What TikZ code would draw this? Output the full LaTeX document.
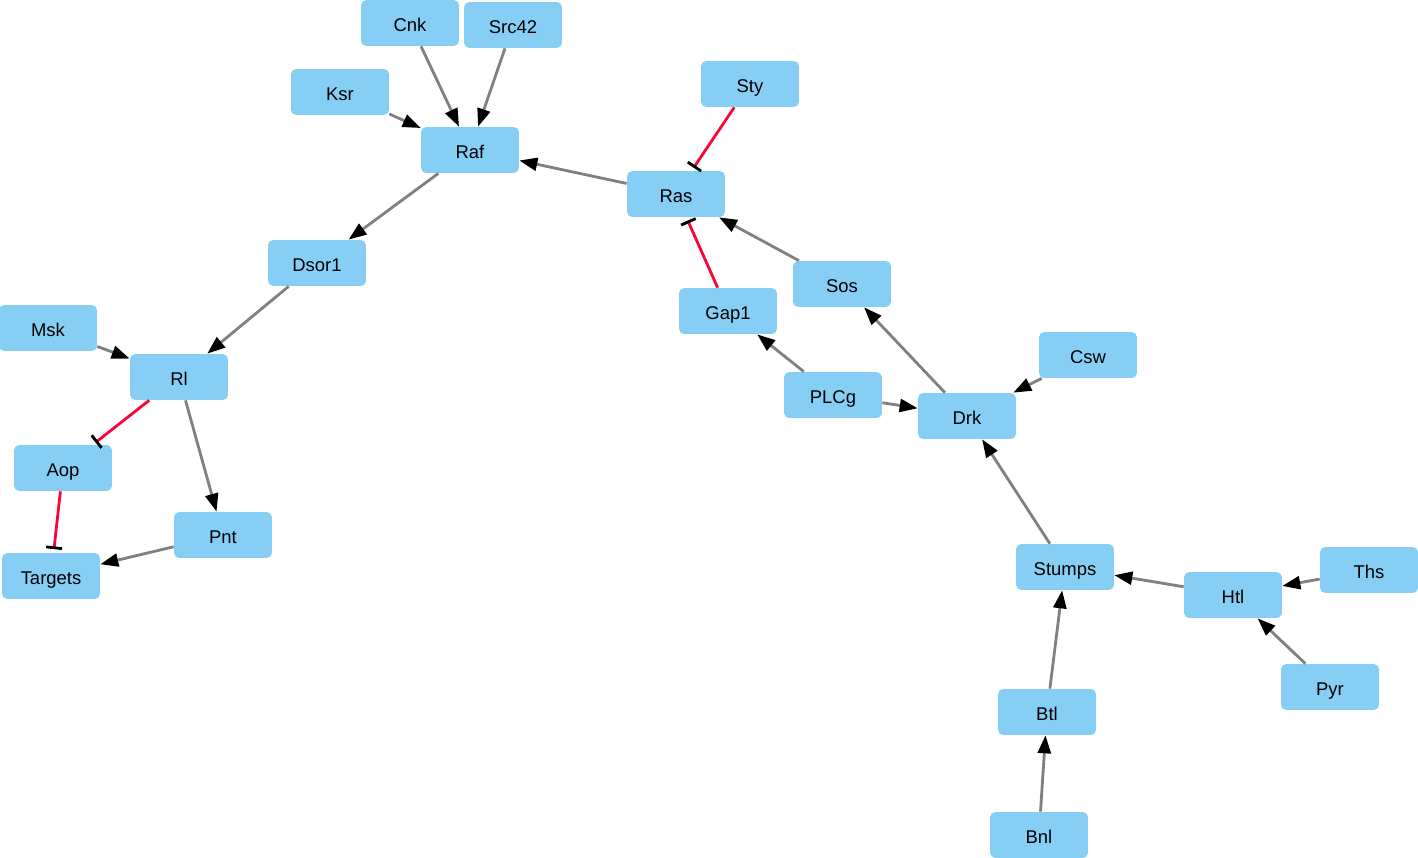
\documentclass[tikz,border=0pt]{standalone}
\usepackage{fontspec}
\setmainfont{Liberation Sans}
\usepackage{tikz}
\usetikzlibrary{arrows.meta}
\definecolor{genebox}{RGB}{135,206,245}
\definecolor{edgegray}{RGB}{128,128,128}
\definecolor{inhred}{RGB}{250,5,55}

\begin{document}
\begin{tikzpicture}[x=0.02cm, y=-0.02cm,
  gene/.style={fill=genebox, rounded corners=3pt, minimum width=1.96cm,
    minimum height=0.92cm, inner sep=0pt, text height=1.8ex, text depth=0pt,
    font=\fontsize{10.5}{12}\selectfont},
  act/.style={draw=edgegray, line width=1.6pt,
    -{Triangle[length=0.36cm,width=0.26cm,color=black]}},
  inh/.style={draw=inhred, line width=1.6pt,
    -{Bar[width=0.32cm,color=black,line width=1.6pt]}, shorten >=2pt}]
  \useasboundingbox (0,0) rectangle (1418,858);

  % Genes
  \foreach \n/\x/\y in {Cnk/410/23, Src42/513/25, Ksr/340/92, Raf/470/150,
      Sty/750/84, Ras/676/194, Dsor1/317/263, Msk/48/328, Rl/179/377,
      Gap1/728/311, Sos/842/284, Csw/1088/355, PLCg/833/395, Drk/967/416,
      Aop/63/468, Pnt/223/535, Targets/51/576, Stumps/1065/567,
      Ths/1369/570, Htl/1233/595, Pyr/1330/687, Btl/1047/712, Bnl/1039/835}
    \node[gene] (\n) at (\x,\y) {\n};

  % Activation
  \foreach \a/\b in {Cnk/Raf, Src42/Raf, Ksr/Raf, Ras/Raf, Raf/Dsor1,
      Dsor1/Rl, Msk/Rl, Rl/Pnt, Pnt/Targets, Sos/Ras, PLCg/Gap1,
      Drk/Sos, PLCg/Drk, Csw/Drk, Stumps/Drk, Htl/Stumps, Ths/Htl,
      Pyr/Htl, Btl/Stumps, Bnl/Btl}
    \draw[act] (\a) -- (\b);

  % Inhibition
  \foreach \a/\b in {Rl/Aop, Aop/Targets, Sty/Ras, Gap1/Ras}
    \draw[inh] (\a) -- (\b);
\end{tikzpicture}
\end{document}
